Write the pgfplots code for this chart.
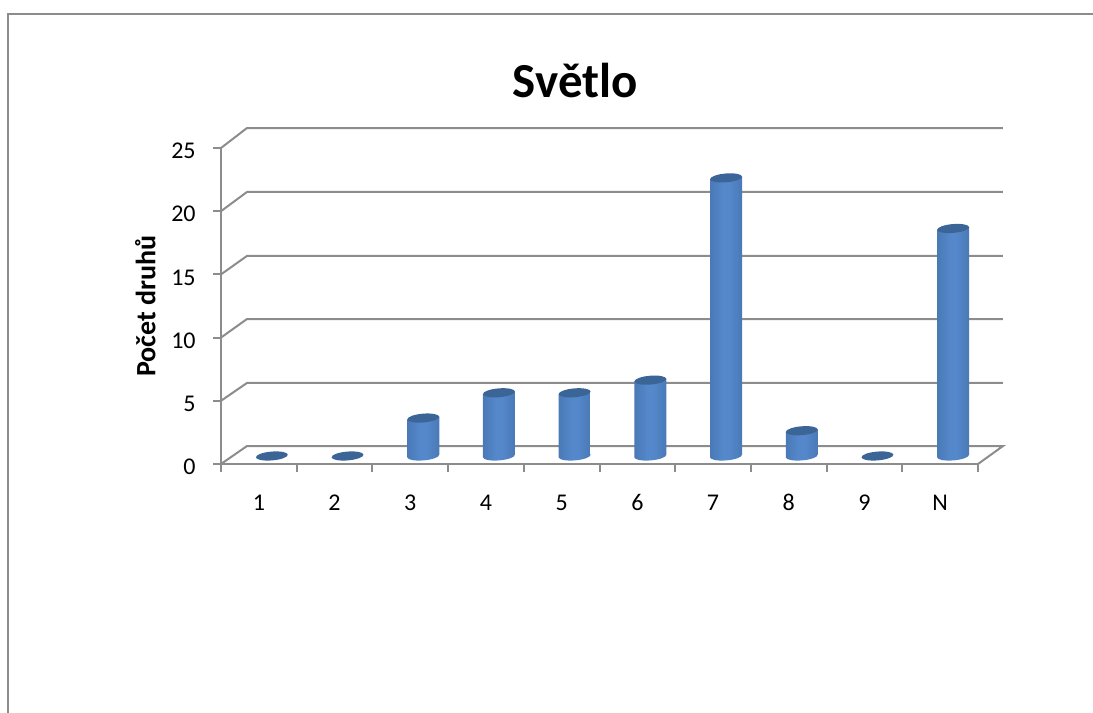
\documentclass[border=0pt]{standalone}
\usepackage{pgfplots}
\pgfplotsset{compat=1.18}
\usepackage{fontspec}
\setmainfont{Carlito}
% 1 unit of layout = 0.75pt throughout
\definecolor{gridgray}{HTML}{8C8C8C}
\definecolor{capblue}{HTML}{3A6596}
\definecolor{cylA}{HTML}{2E5282}
\definecolor{cylB}{HTML}{3A6499}
\definecolor{cylC}{HTML}{4775B0}
\definecolor{cylD}{HTML}{5488CB}
\pgfdeclarehorizontalshading{cyl}{100bp}{
  color(0bp)=(cylA);
  color(8bp)=(cylB);
  color(20bp)=(cylC);
  color(45bp)=(cylD);
  color(55bp)=(cylD);
  color(80bp)=(cylC);
  color(92bp)=(cylB);
  color(100bp)=(cylA)}
% tilted ellipses for the two ends of a cylinder
\newcommand{\cylend}{\pgfpathellipse{\pgfpointorigin}{\pgfpoint{11.96pt}{1.0pt}}{\pgfpoint{-0.28pt}{3.3pt}}}
\pgfdeclareplotmark{cyltop}{\pgfsetfillcolor{capblue}\cylend\pgfusepath{fill}}
\pgfdeclareplotmark{cylbase}{\cylend\pgfshadepath{cyl}{0}\pgfusepath{discard}}
\pgfplotsset{
  wall/.style={gridgray,line width=1.5pt,no markers},
  cylshift/.style={xshift=9.75pt,yshift=6pt},
}
% half a cylinder's width in x units, and the rise of its tilted ends in y units
\def\halfw{0.2114}
\def\rise{0.105}
% one cylinder: base, then body, then cap
\newcommand{\cylinder}[2]{
  \pgfmathsetmacro{\xl}{#1-\halfw}
  \pgfmathsetmacro{\xr}{#1+\halfw}
  \pgfmathsetmacro{\yl}{#2-\rise}
  \pgfmathsetmacro{\yr}{#2+\rise}
  \addplot[only marks,mark=cylbase,cylshift] coordinates {(#1,0)};
  \addplot[draw=none,shading=cyl,shading angle=0,cylshift]
    coordinates {(\xl,-\rise) (\xl,\yl) (\xr,\yr) (\xr,\rise)} -- cycle;
  \addplot[only marks,mark=cyltop,cylshift] coordinates {(#1,#2)};
}
\begin{document}
\begin{tikzpicture}
\path[use as bounding box] (0,0) rectangle (819.75pt,534.75pt);
\draw[gridgray,line width=1.4pt] (6.2pt,0pt) -- (6.2pt,524.1pt) -- (819.75pt,524.1pt);
\begin{axis}[
  at={(165.75pt,186.75pt)},
  anchor=origin,
  scale only axis,
  width=567.75pt,height=237pt,
  xmin=0,xmax=10,ymin=0,ymax=25,
  clip=false,
  axis x line*=bottom,
  axis y line*=left,
  axis line style={gridgray,line width=1.5pt},
  every axis x line/.append style={-},
  every axis y line/.append style={-},
  separate axis lines,
  tick align=outside,
  major tick length=6pt,
  tick style={gridgray,line width=1.5pt},
  typeset ticklabels with strut,
  xtick={0,1,2,3,4,5,6,7,8,9,10},
  xticklabels={1,2,3,4,5,6,7,8,9,N,{}},
  xticklabel style={xshift=28.4pt,yshift=-11pt,font=\fontsize{18}{20}\selectfont},
  ytick={0,5,10,15,20,25},
  yticklabel style={font=\fontsize{18}{20}\selectfont,xshift=-9.5pt,yshift=-4pt},
  /pgf/number format/assume math mode=true,
  ylabel={\textbf{Počet druhů}},
  ylabel style={font=\fontsize{21}{23}\selectfont,at={(axis description cs:0,0.5)},anchor=south,yshift=45.5pt},
  title={\textbf{Světlo}},
  title style={font=\fontsize{36.7}{40}\selectfont,at={(axis description cs:0.468,1)},anchor=south,yshift=28pt},
]
% back wall and floor
\addplot[wall] coordinates {(0,0)(0.343,1.42)(10.33,1.42)(10,0)};
\addplot[wall] coordinates {(0,5)(0.343,6.41)(10.33,6.41)};
\addplot[wall] coordinates {(0,10)(0.343,11.47)(10.33,11.47)};
\addplot[wall] coordinates {(0,15)(0.343,16.46)(10.33,16.46)};
\addplot[wall] coordinates {(0,20)(0.343,21.52)(10.33,21.52)};
\addplot[wall] coordinates {(0,25)(0.343,26.58)(10.33,26.58)};
% categories with no species: cap only
\addplot[only marks,mark=cyltop,cylshift] coordinates {(0.5,0)(1.5,0)(8.5,0)};
\cylinder{2.5}{3}
\cylinder{3.5}{5}
\cylinder{4.5}{5}
\cylinder{5.5}{6}
\cylinder{6.5}{22}
\cylinder{7.5}{2}
\cylinder{9.5}{18}
\end{axis}
\end{tikzpicture}
\end{document}
